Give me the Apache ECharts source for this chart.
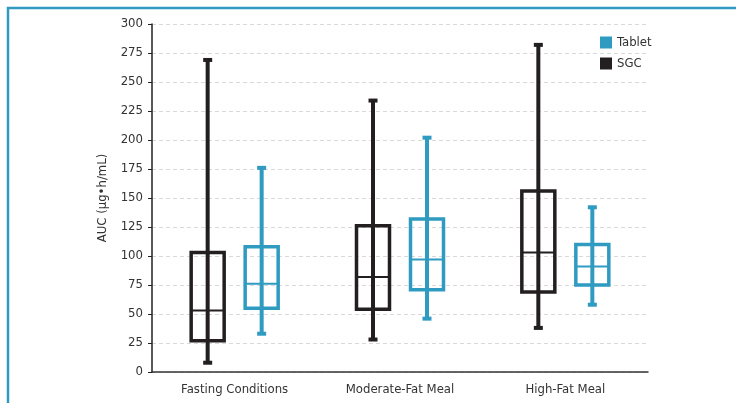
<!DOCTYPE html>
<html>
<head>
<meta charset="utf-8">
<script src="https://cdn.jsdelivr.net/npm/echarts@6/dist/echarts.min.js"></script>
<style>
  html, body { margin: 0; padding: 0; background: #fff; }
  #chart { width: 736px; height: 403px; }
</style>
</head>
<body>
<div id="chart"></div>
<script>
// Meal conditions along the x axis
const categories = ['Fasting Conditions', 'Moderate-Fat Meal', 'High-Fat Meal'];
// AUC summary per condition: [whisker low, Q1, median, Q3, whisker high]
const sgcValues = [
  [8, 27, 53, 103, 269],
  [28, 54, 82, 126, 234],
  [38, 69, 103, 156, 282]
];
const tabletValues = [
  [33, 55, 76, 108, 176],
  [46, 71, 97, 132, 202],
  [58, 75, 91, 110, 142]
];
const yTicks = [0, 25, 50, 75, 100, 125, 150, 175, 200, 225, 250, 275, 300];

const FONT = '"Liberation Sans Narrow", "DejaVu Sans Condensed", "Liberation Sans", sans-serif';
const SGC_COLOR = '#231f20';
const TABLET_COLOR = '#2f9bc1';

function boxRenderer(offset, color) {
  return function (params, api) {
    const cat = api.value(0);
    const lo = api.coord([cat, api.value(1)]);
    const q1 = api.coord([cat, api.value(2)]);
    const med = api.coord([cat, api.value(3)]);
    const q3 = api.coord([cat, api.value(4)]);
    const hi = api.coord([cat, api.value(5)]);
    const cx = lo[0] + offset;
    const half = 16.5;
    const cap = 4.5;
    return {
      type: 'group',
      children: [
        { type: 'line', shape: { x1: cx, y1: hi[1], x2: cx, y2: lo[1] },
          style: { stroke: color, lineWidth: 4 } },
        { type: 'line', shape: { x1: cx - cap, y1: hi[1], x2: cx + cap, y2: hi[1] },
          style: { stroke: color, lineWidth: 4 } },
        { type: 'line', shape: { x1: cx - cap, y1: lo[1], x2: cx + cap, y2: lo[1] },
          style: { stroke: color, lineWidth: 4 } },
        { type: 'rect', shape: { x: cx - half, y: q3[1], width: half * 2, height: q1[1] - q3[1] },
          style: { fill: 'none', stroke: color, lineWidth: 3.5 } },
        { type: 'line', shape: { x1: cx - half, y1: med[1], x2: cx + half, y2: med[1] },
          style: { stroke: color, lineWidth: 2 } }
      ]
    };
  };
}

function toData(values) {
  return values.map((v, i) => [i].concat(v));
}

const chart = echarts.init(document.getElementById('chart'), null, { renderer: 'canvas' });
chart.setOption({
  animation: false,
  backgroundColor: '#fff',
  textStyle: { fontFamily: FONT },
  graphic: [
    { type: 'polyline', silent: true,
      shape: { points: [[8, 410], [8, 8], [740, 8]] },
      style: { stroke: TABLET_COLOR, lineWidth: 2.5, fill: 'none' } }
  ],
  legend: {
    orient: 'vertical',
    left: 595,
    top: 31,
    itemWidth: 12,
    itemHeight: 12,
    itemGap: 8,
    icon: 'rect',
    textStyle: { fontFamily: FONT, fontSize: 13, color: '#333' },
    data: [
      { name: 'Tablet', itemStyle: { color: TABLET_COLOR } },
      { name: 'SGC', itemStyle: { color: SGC_COLOR } }
    ]
  },
  grid: { left: 152, right: 88, top: 24, bottom: 31 },
  xAxis: {
    type: 'category',
    data: categories,
    axisLine: { lineStyle: { color: '#333', width: 1.5 } },
    axisTick: { show: false },
    axisLabel: { fontFamily: FONT, fontSize: 13, color: '#333', margin: 11 },
    splitLine: { show: false }
  },
  yAxis: {
    type: 'value',
    min: yTicks[0],
    max: yTicks[yTicks.length - 1],
    interval: 25,
    name: 'AUC (µg•h/mL)',
    nameLocation: 'middle',
    nameGap: 43,
    nameTextStyle: { fontFamily: FONT, fontSize: 13, color: '#333' },
    axisLine: { show: true, lineStyle: { color: '#222', width: 1.5 } },
    axisTick: { show: true, length: 4, lineStyle: { color: '#222' } },
    axisLabel: { fontFamily: FONT, fontSize: 13, color: '#333', margin: 9 },
    splitLine: { show: true, lineStyle: { color: '#d9d9d9', type: [4, 3] } }
  },
  series: [
    { name: 'SGC', type: 'custom', itemStyle: { color: SGC_COLOR },
      renderItem: boxRenderer(-27, SGC_COLOR),
      encode: { x: 0, y: [1, 2, 3, 4, 5] },
      data: toData(sgcValues) },
    { name: 'Tablet', type: 'custom', itemStyle: { color: TABLET_COLOR },
      renderItem: boxRenderer(27, TABLET_COLOR),
      encode: { x: 0, y: [1, 2, 3, 4, 5] },
      data: toData(tabletValues) }
  ]
});
</script>
</body>
</html>
